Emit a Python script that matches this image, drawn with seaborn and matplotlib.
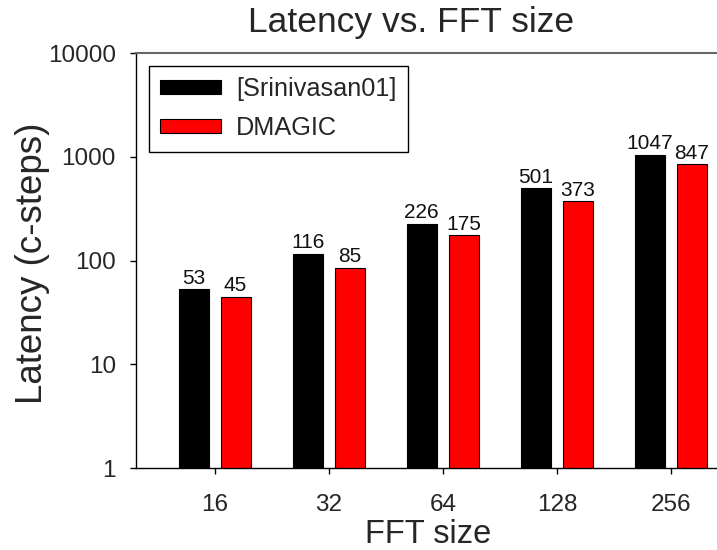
import matplotlib
matplotlib.use("Agg")
import matplotlib.pyplot as plt
import seaborn as sns
import pandas as pd
from matplotlib.ticker import FixedLocator, FixedFormatter

# Data
fft_sizes = ["16", "32", "64", "128", "256"]
srinivasan = [53, 116, 226, 501, 1047]
dmagic = [45, 85, 175, 373, 847]
methods = ["[Srinivasan01]", "DMAGIC"]
y_ticks = [1, 10, 100, 1000, 10000]
y_tick_labels = ["1", "10", "100", "1000", "10000"]

df = pd.DataFrame({
    "FFT size": fft_sizes * 2,
    "Latency": srinivasan + dmagic,
    "Method": [methods[0]] * len(fft_sizes) + [methods[1]] * len(fft_sizes),
})

sns.set_theme(style="white")
plt.rcParams["font.family"] = ["Liberation Sans", "DejaVu Sans"]

fig = plt.figure(figsize=(7.17, 5.5), dpi=100)
ax = fig.add_axes([0.1897, 0.149, 0.8557, 0.7545])

sns.barplot(data=df, x="FFT size", y="Latency", hue="Method", order=fft_sizes,
            hue_order=methods, palette={methods[0]: "#000000", methods[1]: "#ff0000"},
            saturation=1, width=0.736, gap=0.285, edgecolor="#000000", linewidth=0.8,
            errorbar=None, ax=ax)

ax.set_yscale("log")
ax.set_ylim(1, 10000)
ax.set_xlim(-0.688, 4.688)
ax.yaxis.set_major_locator(FixedLocator(y_ticks))
ax.yaxis.set_major_formatter(FixedFormatter(y_tick_labels))
ax.yaxis.set_minor_locator(FixedLocator([]))

for cont in ax.containers:
    ax.bar_label(cont, padding=1, fontsize=15, color="#111111")

ax.set_title("Latency vs. FFT size", fontsize=25.5, pad=15, x=0.448)
ax.set_xlabel("FFT size", fontsize=23.5)
ax.set_ylabel("Latency (c-steps)", fontsize=26.5)
ax.xaxis.set_label_coords(0.476, -0.123)
ax.yaxis.set_label_coords(-0.141, 0.494)

ax.tick_params(axis="both", which="major", labelsize=17.5, direction="out",
               length=4, width=1, color="#000000", left=True, bottom=True)
ax.tick_params(axis="y", pad=10.5)
ax.tick_params(axis="x", pad=15)

for side in ["left", "bottom"]:
    ax.spines[side].set_color("#000000")
    ax.spines[side].set_linewidth(1)
ax.spines["top"].set_color("#666666")
ax.spines["top"].set_linewidth(1.5)
ax.spines["right"].set_visible(False)

leg = ax.legend(loc="upper left", fontsize=18.2, frameon=True, fancybox=False,
                edgecolor="#000000", handlelength=2.4, handleheight=0.5,
                labelspacing=0.6, borderaxespad=0.5, borderpad=0.45,
                handletextpad=0.6, title=None)
leg.get_frame().set_linewidth(1)
leg.get_frame().set_alpha(1)

fig.savefig("out.png", dpi=100)
